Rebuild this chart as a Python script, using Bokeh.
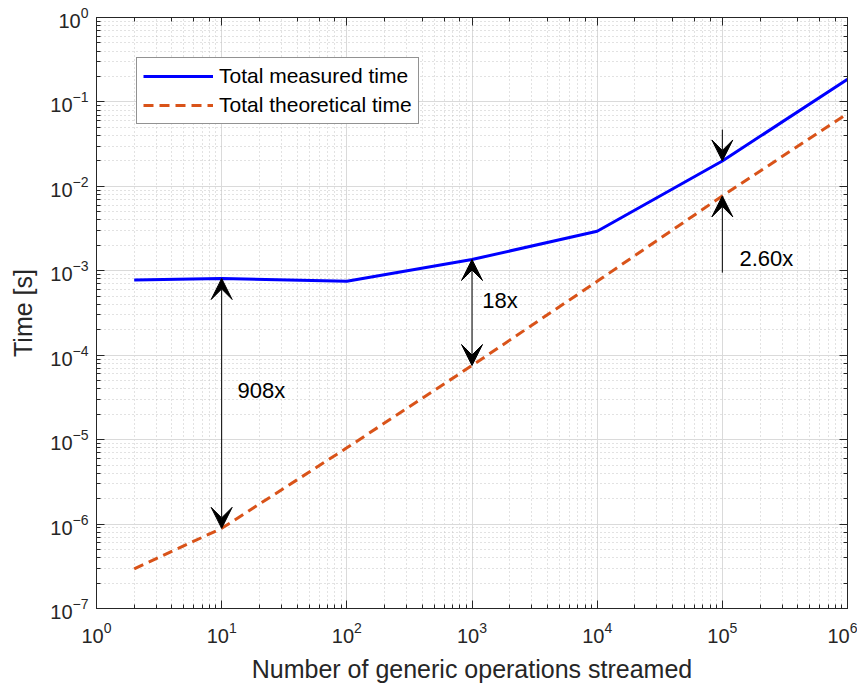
from bokeh.plotting import figure
from bokeh.models import (LogAxis, LogTicker, Arrow, VeeHead, Label, Legend, LegendItem,
                          ColumnDataSource, CustomJSTickFormatter)
from bokeh.embed import file_html
from bokeh.resources import INLINE

# ---- data ----
ops = [2, 10, 100, 1000, 10000, 100000, 1000000]
measured = [7.8e-4, 8.1e-4, 7.5e-4, 1.36e-3, 2.94e-3, 2.0e-2, 0.185]
theoretical = [2.95e-7, 8.9e-7, 8.0e-6, 7.55e-5, 7.5e-4, 7.7e-3, 0.073]

ann_x = [10, 1000, 100000]
ann_labels = ["908x", "18x", "2.60x"]
ann_label_x = [13.4, 1210, 1.37e5]
ann_label_y = [3.8e-5, 4.4e-4, 1.4e-3]
outer_top = 0.047      # start of inward arrows (2.60x)
outer_bottom = 9.5e-4

FONT = "Liberation Sans"
TXT = "#262626"

p = figure(x_axis_type="log", y_axis_type="log",
           x_range=(1, 1e6), y_range=(1e-7, 1),
           frame_width=751, frame_height=591,
           min_border_left=96, min_border_right=10, min_border_top=17, min_border_bottom=78,
           output_backend="svg", toolbar_location=None,
           background_fill_color="white", border_fill_color="white")

p.outline_line_color = TXT
p.outline_line_width = 1

def style_axis(ax, labels=True):
    ax.axis_line_color = TXT
    ax.major_tick_line_color = TXT
    ax.minor_tick_line_color = TXT
    ax.major_tick_in = 8
    ax.major_tick_out = 0
    ax.minor_tick_in = 4
    ax.minor_tick_out = 0
    if labels:
        ax.major_label_text_font = FONT
        ax.major_label_text_font_size = "20px"
        ax.major_label_text_color = TXT
        ax.axis_label_text_font = FONT
        ax.axis_label_text_font_size = "25px"
        ax.axis_label_text_font_style = "normal"
        ax.axis_label_text_color = TXT

p.xaxis.axis_label = "Number of generic operations streamed"
p.yaxis.axis_label = "Time [s]"
style_axis(p.xaxis[0])
style_axis(p.yaxis[0])
p.xaxis.major_label_standoff = 13
p.yaxis.major_label_standoff = 8
p.xaxis.axis_label_standoff = 9
p.yaxis.axis_label_standoff = 10

for loc in ("above", "right"):
    ax = LogAxis(ticker=LogTicker(), formatter=CustomJSTickFormatter(code="return ''"))
    style_axis(ax, labels=False)
    ax.major_label_standoff = 0
    ax.major_label_text_font_size = "1px"
    p.add_layout(ax, loc)

for g in (p.xgrid[0], p.ygrid[0]):
    g.grid_line_color = "#dadada"
    g.grid_line_width = 1
    g.minor_grid_line_color = "#c4c4c4"
    g.minor_grid_line_dash = "1 3"
    g.minor_grid_line_width = 1

src = ColumnDataSource(dict(x=ops, m=measured, t=theoretical))
r1 = p.line("x", "m", source=src, line_color="#0000ff", line_width=3)
r2 = p.line("x", "t", source=src, line_color="#d95319", line_width=3, line_dash="10 6")

def head():
    return VeeHead(size=21, fill_color="black", line_color="black")

for i, xv in enumerate(ann_x):
    k = ops.index(xv)
    if i < 2:
        p.add_layout(Arrow(x_start=xv, y_start=measured[k], x_end=xv, y_end=theoretical[k],
                           line_color="black", line_width=1, start=head(), end=head()))
    else:
        p.add_layout(Arrow(x_start=xv, y_start=outer_top, x_end=xv, y_end=measured[k],
                           line_color="black", line_width=1, end=head()))
        p.add_layout(Arrow(x_start=xv, y_start=outer_bottom, x_end=xv, y_end=theoretical[k],
                           line_color="black", line_width=1, end=head()))
    p.add_layout(Label(x=ann_label_x[i], y=ann_label_y[i], text=ann_labels[i],
                       text_font=FONT, text_font_size="22px", text_color="black",
                       text_baseline="middle", text_align="left"))

legend = Legend(items=[LegendItem(label="Total measured time", renderers=[r1]),
                       LegendItem(label="Total theoretical time", renderers=[r2])],
                location="top_left")
legend.margin = 40
legend.border_line_color = TXT
legend.border_line_width = 1
legend.background_fill_color = "white"
legend.background_fill_alpha = 1
legend.label_text_font = FONT
legend.label_text_font_size = "21px"
legend.label_text_color = "black"
legend.glyph_width = 70
legend.glyph_height = 22
legend.label_height = 22
legend.label_standoff = 6
legend.padding = 6
legend.spacing = 5
p.add_layout(legend)

open("out.html", "w").write(file_html(p, INLINE))
